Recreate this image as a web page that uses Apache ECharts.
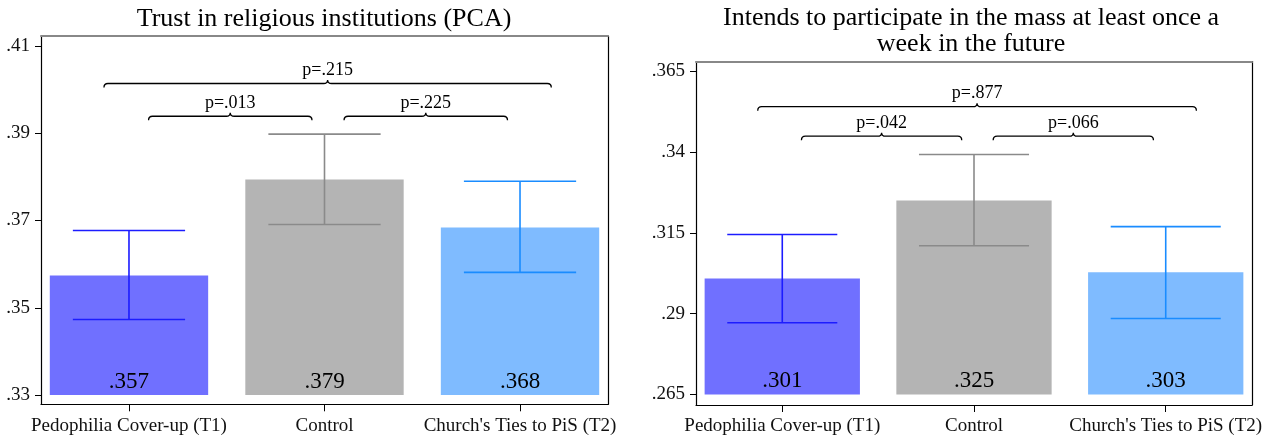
<!DOCTYPE html>
<html>
<head>
<meta charset="utf-8">
<script src="https://cdn.jsdelivr.net/npm/echarts@6/dist/echarts.min.js"></script>
<style>
html,body{margin:0;padding:0;background:#fff;}
#chart{width:1279px;height:442px;}
</style>
</head>
<body>
<div id="chart"></div>
<script>
// ---------- data ----------
const categories = ["Pedophilia Cover-up (T1)", "Control", "Church's Ties to PiS (T2)"];

const trustTitle = "Trust in religious institutions (PCA)";
const trustMeans = [0.3574, 0.3794, 0.3684];
const trustLow   = [0.3473, 0.3691, 0.3581];
const trustHigh  = [0.3677, 0.3898, 0.3790];
const trustTicks = [0.33, 0.35, 0.37, 0.39, 0.41];
const trustPairs = [[0, 1], [1, 2], [0, 2]];
const trustP     = ["p=.013", "p=.225", "p=.215"];
const trustBracketLevels = [0.3939, 0.3939, 0.4014];

const massTitle = "Intends to participate in the mass at least once a\nweek in the future";
const massMeans = [0.3009, 0.3250, 0.3028];
const massLow   = [0.2872, 0.3110, 0.2885];
const massHigh  = [0.3145, 0.3392, 0.3169];
const massTicks = [0.265, 0.29, 0.315, 0.34, 0.365];
const massPairs = [[0, 1], [1, 2], [0, 2]];
const massP     = ["p=.042", "p=.066", "p=.877"];
const massBracketLevels = [0.3449, 0.3449, 0.3540];

// ---------- styles ----------
const FONT = "'Liberation Serif', 'Times New Roman', serif";
const barFill = ['#7070ff', '#b4b4b4', '#7fbbff'];
const errColor = ['#1c1cff', '#8a8a8a', '#1a8cff'];
const BAR_HALF = 0.405;
const CAP_HALF = 0.287;

function fmt(v, d) { return v.toFixed(d).replace(/^0/, ''); }
function tickFmt(v) { return String(parseFloat(v.toFixed(4))).replace(/^0/, ''); }

function barsSeries(xi, yi, means, lows, highs, base) {
  return {
    type: 'custom', xAxisIndex: xi, yAxisIndex: yi, z: 3,
    data: means.map((m, i) => [i + 1, m, lows[i], highs[i]]),
    renderItem: function (params, api) {
      const i = params.dataIndex;
      const x = api.value(0), m = api.value(1), lo = api.value(2), hi = api.value(3);
      const a = api.coord([x - BAR_HALF, m]);
      const b = api.coord([x + BAR_HALF, base]);
      const top = api.coord([x, hi]), bot = api.coord([x, lo]);
      const cl = api.coord([x - CAP_HALF, hi])[0], cr = api.coord([x + CAP_HALF, hi])[0];
      const baseP = api.coord([x, base]);
      const ls = { stroke: errColor[i], lineWidth: 1.6 };
      return {
        type: 'group',
        children: [
          { type: 'rect', shape: { x: a[0], y: a[1], width: b[0] - a[0], height: b[1] - a[1] }, style: { fill: barFill[i] } },
          { type: 'line', shape: { x1: top[0], y1: top[1], x2: bot[0], y2: bot[1] }, style: ls },
          { type: 'line', shape: { x1: cl, y1: top[1], x2: cr, y2: top[1] }, style: ls },
          { type: 'line', shape: { x1: cl, y1: bot[1], x2: cr, y2: bot[1] }, style: ls },
          { type: 'text', style: { text: fmt(m, 3), x: baseP[0], y: baseP[1] - 2, align: 'center', verticalAlign: 'bottom',
              fontFamily: FONT, fontSize: 23, fill: '#000' } }
        ]
      };
    }
  };
}

function bracketSeries(xi, yi, pairs, labels, levels) {
  return {
    type: 'custom', xAxisIndex: xi, yAxisIndex: yi, z: 4,
    data: pairs.map((p, k) => [p[0] + 1, p[1] + 1, levels[k]]),
    renderItem: function (params, api) {
      const k = params.dataIndex;
      const f = api.value(0), t = api.value(1), lev = api.value(2);
      const outer = (t - f) > 1;
      const x1v = outer ? f - 0.128 : f + 0.1;
      const x2v = outer ? t + 0.16 : t - 0.064;
      const p1 = api.coord([x1v, lev]), p2 = api.coord([x2v, lev]);
      const y = p1[1], x1 = p1[0], x2 = p2[0], xm = (x1 + x2) / 2;
      const d = 'M' + x1 + ',' + (y + 4) + ' Q' + x1 + ',' + y + ' ' + (x1 + 4) + ',' + y +
        ' L' + (xm - 4) + ',' + y + ' Q' + xm + ',' + y + ' ' + xm + ',' + (y - 3.5) +
        ' Q' + xm + ',' + y + ' ' + (xm + 4) + ',' + y +
        ' L' + (x2 - 4) + ',' + y + ' Q' + x2 + ',' + y + ' ' + x2 + ',' + (y + 4);
      return {
        type: 'group',
        children: [
          { type: 'path', shape: { pathData: d }, style: { fill: null, stroke: '#000', lineWidth: 1.3 } },
          { type: 'text', style: { text: labels[k], x: xm, y: y - 4, align: 'center', verticalAlign: 'bottom',
              fontFamily: FONT, fontSize: 18, fill: '#000' } }
        ]
      };
    }
  };
}

function xAxisBottom(gi) {
  return {
    type: 'value', gridIndex: gi, min: 0.55, max: 3.45, position: 'bottom',
    splitLine: { show: false },
    axisLine: { show: true, lineStyle: { color: '#000', width: 1.2 } },
    axisTick: { show: true, customValues: [1, 2, 3], length: 7, lineStyle: { color: '#000', width: 1 } },
    axisLabel: { customValues: [1, 2, 3], formatter: v => categories[Math.round(v) - 1], margin: 12,
      fontFamily: FONT, fontSize: 19, color: '#111' }
  };
}
function xAxisTop(gi) {
  return {
    type: 'value', gridIndex: gi, min: 0, max: 1, position: 'top',
    splitLine: { show: false }, axisTick: { show: false }, axisLabel: { show: false },
    axisLine: { show: true, lineStyle: { color: '#888', width: 2 } }
  };
}
function yAxisLeft(gi, ticks, min, max) {
  return {
    type: 'value', gridIndex: gi, min: min, max: max, position: 'left',
    splitLine: { show: false },
    axisLine: { show: true, lineStyle: { color: '#000', width: 1.2 } },
    axisTick: { show: true, customValues: ticks, length: 6, lineStyle: { color: '#000', width: 1 } },
    axisLabel: { customValues: ticks, formatter: v => tickFmt(v), margin: 11,
      fontFamily: FONT, fontSize: 19, color: '#111', padding: [4, 0, 0, 0] }
  };
}
function yAxisRight(gi) {
  return {
    type: 'value', gridIndex: gi, min: 0, max: 1, position: 'right',
    splitLine: { show: false }, axisTick: { show: false }, axisLabel: { show: false },
    axisLine: { show: true, lineStyle: { color: '#000', width: 1.2 } }
  };
}

const chart = echarts.init(document.getElementById('chart'), null, { renderer: 'canvas' });
chart.setOption({
  animation: false,
  backgroundColor: '#fff',
  grid: [
    { left: 41, top: 36, width: 567, height: 368.3 },
    { left: 696, top: 61.5, width: 556, height: 343.5 }
  ],
  xAxis: [xAxisBottom(0), xAxisTop(0), xAxisBottom(1), xAxisTop(1)],
  yAxis: [
    yAxisLeft(0, trustTicks, 0.32787, 0.41229), yAxisRight(0),
    yAxisLeft(1, massTicks, 0.26175, 0.36798), yAxisRight(1)
  ],
  graphic: [
    { type: 'text', x: 324, y: 6, style: { text: trustTitle, align: 'center', verticalAlign: 'top',
        fontFamily: FONT, fontSize: 26, fill: '#000' } },
    { type: 'text', x: 971, y: 5, style: { text: massTitle, align: 'center', verticalAlign: 'top',
        fontFamily: FONT, fontSize: 26, lineHeight: 26, fill: '#000' } }
  ],
  series: [
    barsSeries(0, 0, trustMeans, trustLow, trustHigh, trustTicks[0]),
    bracketSeries(0, 0, trustPairs, trustP, trustBracketLevels),
    barsSeries(2, 2, massMeans, massLow, massHigh, massTicks[0]),
    bracketSeries(2, 2, massPairs, massP, massBracketLevels)
  ]
});
</script>
</body>
</html>
